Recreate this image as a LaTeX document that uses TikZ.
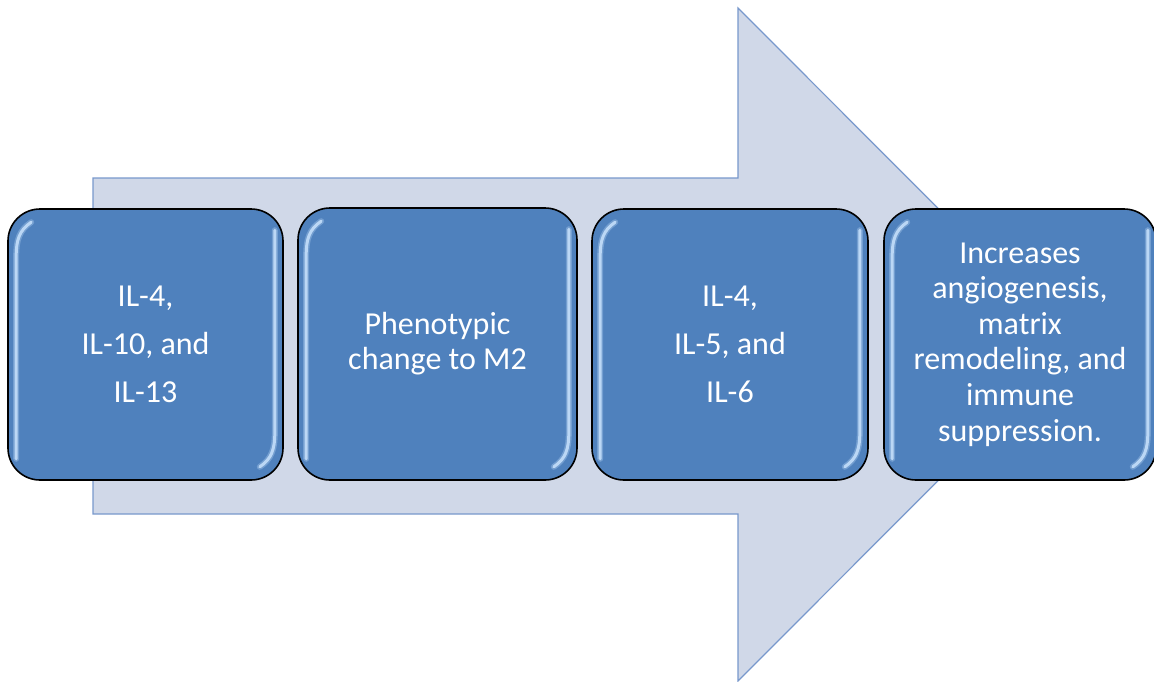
\documentclass[tikz,border=0pt]{standalone}
\usepackage{fontspec}
\setmainfont{Carlito}
\usetikzlibrary{calc}
\definecolor{arrowfill}{RGB}{208,216,232}
\definecolor{arrowline}{RGB}{120,152,204}
\definecolor{boxfill}{RGB}{79,129,189}
\definecolor{glosscol}{RGB}{200,226,252}
\tikzset{
  stepbox/.style={draw=black, line width=1.6pt, fill=boxfill, rounded corners=32pt,
    text=white, align=center, inner sep=0pt},
  glossline/.style={draw=glosscol, line width=3pt, line cap=round, opacity=0.85},
  glosshalo/.style={draw=glosscol, line width=6pt, line cap=round, opacity=0.3}
}
\newcommand\glossy[1]{%
  \foreach \st in {glosshalo,glossline}{%
    \draw[\st] ($(#1.north west)+(24,14)$) .. controls ($(#1.north west)+(12,22)$) and ($(#1.north west)+(9,32)$) .. ($(#1.north west)+(9,48)$) -- ($(#1.south west)+(9,-22)$);
    \draw[\st] ($(#1.north east)+(-9,22)$) -- ($(#1.south east)+(-9,-48)$) .. controls ($(#1.south east)+(-9,-32)$) and ($(#1.south east)+(-12,-22)$) .. ($(#1.south east)+(-24,-14)$);
  }%
}
\begin{document}
\begin{tikzpicture}[x=1pt,y=-1pt]
\useasboundingbox (0,0) rectangle (1154,681);
% large background arrow
\draw[fill=arrowfill, draw=arrowline, line width=1.2pt, line join=miter]
  (93,178) -- (738,178) -- (738,8) -- (1074,344.5) -- (738,681) -- (738,514) -- (93,514) -- cycle;
% process steps
\node[stepbox, minimum width=275pt, minimum height=271pt,
      font=\fontsize{32}{48}\selectfont] (b1) at (145.5,344.5) {IL-4,\\IL-10, and\\IL-13};
\node[stepbox, minimum width=279pt, minimum height=272pt,
      font=\fontsize{32}{35}\selectfont] (b2) at (437.5,344) {Phenotypic\\change to M2};
\node[stepbox, minimum width=276pt, minimum height=271pt,
      font=\fontsize{32}{48}\selectfont] (b3) at (730,344.5) {IL-4,\\IL-5, and\\IL-6};
\node[stepbox, minimum width=272pt, minimum height=271pt,
      font=\fontsize{32}{35.6}\selectfont] (b4) at (1020,344.5) {Increases\\angiogenesis,\\matrix\\remodeling, and\\immune\\suppression.};
\glossy{b1}
\glossy{b2}
\glossy{b3}
\glossy{b4}
\end{tikzpicture}
\end{document}
